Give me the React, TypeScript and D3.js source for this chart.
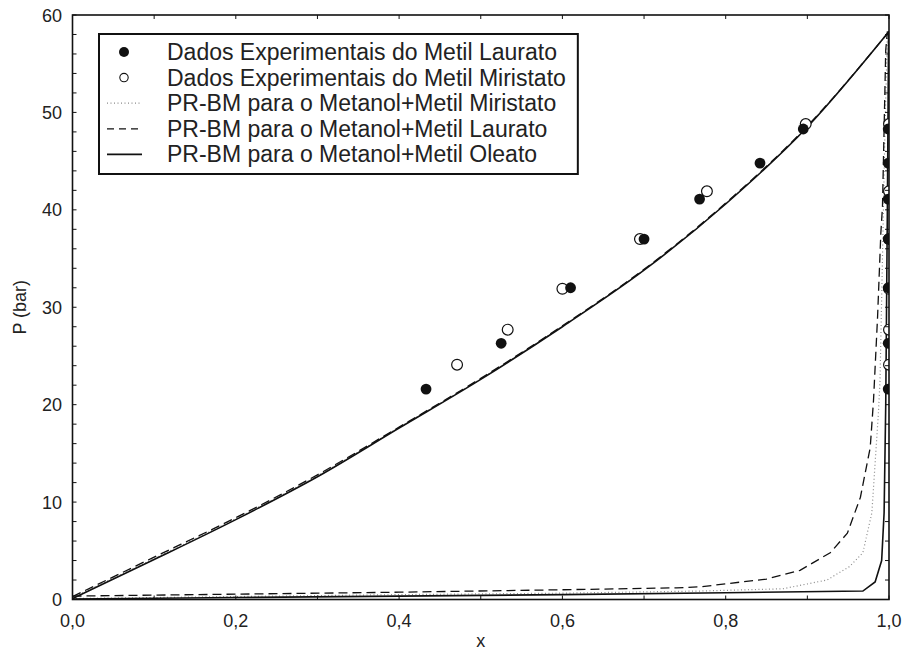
import React, { useEffect, useRef } from 'react';
import * as d3 from 'd3';

// experimental bubble points
const laurX = [0.433, 0.525, 0.61, 0.70, 0.768, 0.842, 0.895];
const laurP = [21.6, 26.3, 32.0, 37.0, 41.1, 44.8, 48.3];
const miriX = [0.471, 0.533, 0.60, 0.695, 0.777, 0.898];
const miriP = [24.1, 27.7, 31.9, 37.0, 41.9, 48.8];
// dew side points sit on the right edge
const laurYX = 0.999;
const miriYX = 1.0;

// bubble curves
const bubX = [0, 0.1, 0.2, 0.3, 0.4, 0.5, 0.6, 0.7, 0.8, 0.9, 1.0];
const bubOleato = [0.1, 4.1, 8.2, 12.6, 17.6, 22.6, 28.0, 33.8, 40.6, 48.5, 58.3];
const bubLaurato = [0.3, 4.35, 8.4, 12.8, 17.7, 22.7, 28.1, 33.9, 40.7, 48.6, 58.3];
const bubMiristato = [0.2, 4.2, 8.3, 12.7, 17.65, 22.65, 28.05, 33.85, 40.65, 48.55, 58.3];

// dew curves
const dewLaurX = [0, 0.2, 0.4, 0.6, 0.74, 0.769, 0.85, 0.891, 0.928, 0.949, 0.965, 0.977, 0.981, 0.986, 0.990, 0.992, 0.996, 0.998];
const dewLaurP = [0.35, 0.55, 0.75, 1.0, 1.2, 1.3, 2.1, 3.0, 4.8, 6.8, 10.5, 15.6, 20.4, 29.0, 37.6, 40.3, 56.4, 58.3];
const dewMiriX = [0, 0.2, 0.4, 0.6, 0.769, 0.87, 0.924, 0.952, 0.968, 0.979, 0.983, 0.987, 0.989, 0.992, 0.995, 0.998];
const dewMiriP = [0.1, 0.3, 0.5, 0.65, 0.87, 1.1, 2.0, 3.4, 4.8, 8.9, 14.0, 19.1, 22.5, 35.0, 48.0, 58.3];
const dewOleX = [0, 0.2, 0.4, 0.6, 0.8, 0.968, 0.983, 0.991, 0.994, 0.996, 0.998, 0.9995];
const dewOleP = [0.05, 0.2, 0.35, 0.5, 0.7, 0.87, 1.8, 4.0, 8.9, 20.0, 40.0, 58.3];

const xTickLabels = ['0,0', '0,2', '0,4', '0,6', '0,8', '1,0'];
const yTickLabels = ['0', '10', '20', '30', '40', '50', '60'];

const legendLabels = [
  'Dados Experimentais do Metil Laurato',
  'Dados Experimentais do Metil Miristato',
  'PR-BM para o Metanol+Metil Miristato',
  'PR-BM para o Metanol+Metil Laurato',
  'PR-BM para o Metanol+Metil Oleato',
];

const zip = (xs: number[], ys: number[]) => xs.map((x, i) => [x, ys[i]] as [number, number]);

const App = () => {
  const svgRef = useRef<SVGSVGElement>(null);

  useEffect(() => {
    const svg = d3.select(svgRef.current);
    svg.selectAll('*').remove();
    const font = 'Arial, "Liberation Sans", sans-serif';

    const left = 72.5, right = 889, top = 15, bottom = 599.5;
    const x = d3.scaleLinear().domain([0, 1]).range([left, right]);
    const y = d3.scaleLinear().domain([0, 60]).range([bottom, top]);

    svg.append('defs').append('clipPath').attr('id', 'plotclip')
      .append('rect').attr('x', left).attr('y', top)
      .attr('width', right - left).attr('height', bottom - top);

    const plot = svg.append('g').attr('clip-path', 'url(#plotclip)');

    const smooth = d3.line<[number, number]>().x(d => x(d[0])).y(d => y(d[1])).curve(d3.curveMonotoneX);
    const straight = d3.line<[number, number]>().x(d => x(d[0])).y(d => y(d[1]));

    const dotted = { stroke: '#8a8a8a', width: 1.2, dash: '1,2.5' };
    const dashed = { stroke: '#111', width: 1.3, dash: '9,5' };
    const solid = { stroke: '#111', width: 1.6, dash: null };

    const drawLine = (d: string | null, st: any) => {
      plot.append('path').attr('d', d).attr('fill', 'none')
        .attr('stroke', st.stroke).attr('stroke-width', st.width)
        .attr('stroke-dasharray', st.dash);
    };

    drawLine(smooth(zip(bubX, bubMiristato)), dotted);
    drawLine(straight(zip(dewMiriX, dewMiriP)), dotted);
    drawLine(smooth(zip(bubX, bubLaurato)), dashed);
    drawLine(straight(zip(dewLaurX, dewLaurP)), dashed);
    drawLine(smooth(zip(bubX, bubOleato)), solid);
    drawLine(straight(zip(dewOleX, dewOleP)), solid);

    // markers
    const r = 5.4;
    plot.selectAll('.mo').data(zip(miriX, miriP)).enter().append('circle')
      .attr('cx', d => x(d[0])).attr('cy', d => y(d[1])).attr('r', r)
      .attr('fill', 'white').attr('stroke', '#111').attr('stroke-width', 1.2);
    plot.selectAll('.ml').data(zip(laurX, laurP)).enter().append('circle')
      .attr('cx', d => x(d[0])).attr('cy', d => y(d[1])).attr('r', r)
      .attr('fill', '#111');
    plot.selectAll('.mo2').data(miriP).enter().append('circle')
      .attr('cx', x(miriYX)).attr('cy', d => y(d)).attr('r', r)
      .attr('fill', 'white').attr('stroke', '#111').attr('stroke-width', 1.2);
    plot.selectAll('.ml2').data(laurP).enter().append('circle')
      .attr('cx', x(laurYX)).attr('cy', d => y(d)).attr('r', r)
      .attr('fill', '#111');

    // frame and ticks (inside, all four sides)
    svg.append('rect').attr('x', left).attr('y', top)
      .attr('width', right - left).attr('height', bottom - top)
      .attr('fill', 'none').attr('stroke', '#111').attr('stroke-width', 1.6);

    const xt = d3.range(0, 1.0001, 0.1);
    const yt = d3.range(0, 60.001, 2);
    const tl = 4;
    const ticks = svg.append('g').attr('stroke', '#111').attr('stroke-width', 1);
    xt.forEach(v => {
      ticks.append('line').attr('x1', x(v)).attr('x2', x(v)).attr('y1', bottom).attr('y2', bottom - tl);
      ticks.append('line').attr('x1', x(v)).attr('x2', x(v)).attr('y1', top).attr('y2', top + tl);
    });
    yt.forEach(v => {
      ticks.append('line').attr('y1', y(v)).attr('y2', y(v)).attr('x1', left).attr('x2', left + tl);
      ticks.append('line').attr('y1', y(v)).attr('y2', y(v)).attr('x1', right).attr('x2', right - tl);
    });

    svg.selectAll('.xl').data(xTickLabels).enter().append('text')
      .attr('x', (_, i) => x(i * 0.2)).attr('y', 627)
      .attr('text-anchor', 'middle').attr('font-family', font).attr('font-size', 18)
      .attr('fill', '#222').text(d => d);
    svg.selectAll('.yl').data(yTickLabels).enter().append('text')
      .attr('x', 62).attr('y', (_, i) => y(i * 10) + 6.5)
      .attr('text-anchor', 'end').attr('font-family', font).attr('font-size', 18)
      .attr('fill', '#222').text(d => d);

    svg.append('text').attr('x', (left + right) / 2).attr('y', 647)
      .attr('text-anchor', 'middle').attr('font-family', font).attr('font-size', 18)
      .attr('fill', '#222').text('x');
    svg.append('text').attr('transform', `translate(26,${(top + bottom) / 2}) rotate(-90)`)
      .attr('text-anchor', 'middle').attr('font-family', font).attr('font-size', 18)
      .attr('fill', '#222').text('P (bar)');

    // legend
    const lg = svg.append('g');
    const lx = 99, ly = 34, rowH = 25.6, fs = 23;
    const box = lg.append('rect').attr('x', lx).attr('y', ly).attr('height', 140)
      .attr('fill', 'white').attr('stroke', '#111').attr('stroke-width', 2);
    let maxW = 0;
    legendLabels.forEach((t, i) => {
      const cy = ly + 18 + i * rowH;
      const tx = lg.append('text').attr('x', 167).attr('y', cy + 8).attr('font-family', font)
        .attr('font-size', fs).attr('fill', '#222').text(t);
      const node = tx.node() as SVGTextElement;
      maxW = Math.max(maxW, node.getComputedTextLength());
    });
    box.attr('width', 167 - lx + maxW + 12);
    lg.append('circle').attr('cx', 124).attr('cy', ly + 18).attr('r', 5).attr('fill', '#111');
    lg.append('circle').attr('cx', 124).attr('cy', ly + 18 + rowH).attr('r', 4.2)
      .attr('fill', 'white').attr('stroke', '#111').attr('stroke-width', 1.1);
    const sample = [dotted, dashed, solid];
    sample.forEach((st, i) => {
      const cy = ly + 18 + (i + 2) * rowH;
      lg.append('line').attr('x1', 107).attr('x2', 142).attr('y1', cy).attr('y2', cy)
        .attr('stroke', st.stroke).attr('stroke-width', st.width)
        .attr('stroke-dasharray', st.dash ? (i === 1 ? '7,5' : st.dash) : null);
    });
  }, []);

  return (
    <svg ref={svgRef} width={904} height={664}
      style={{ display: 'block', position: 'absolute', left: 0, top: 0, background: 'white' }} />
  );
};

export default App;
